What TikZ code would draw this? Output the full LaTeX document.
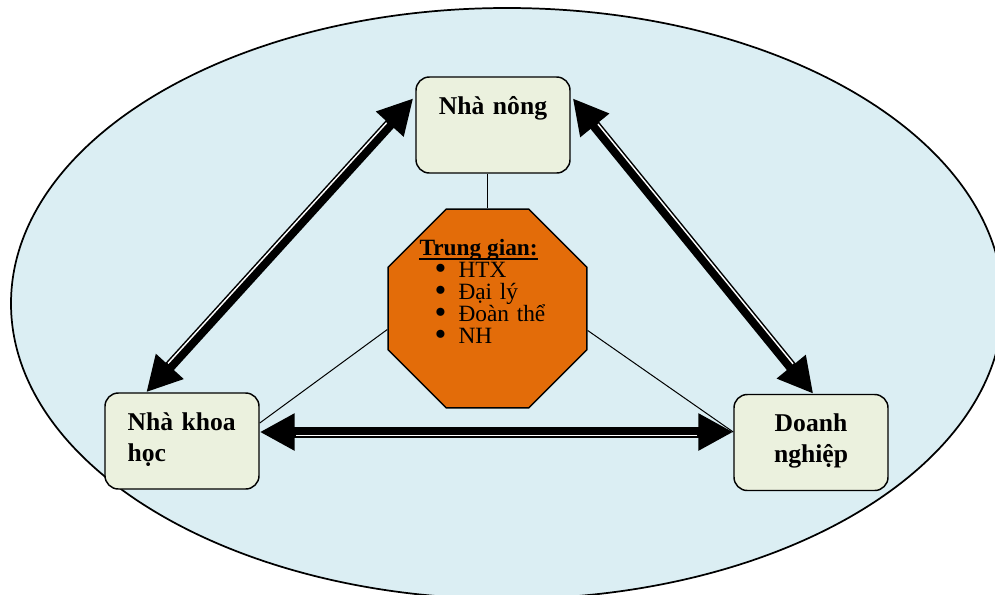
\documentclass[tikz,border=0pt]{standalone}
\usepackage{fontspec}
\setmainfont{Liberation Serif}
\usetikzlibrary{arrows.meta,shapes.geometric,calc}

\definecolor{ovalfill}{HTML}{DBEEF3}
\definecolor{boxfill}{HTML}{EBF1DE}
\definecolor{octfill}{HTML}{E36C09}
\newcommand\tightskip{\lineskiplimit=-50pt\relax}
\newcommand\dotitem{\makebox[18pt][l]{\smash{\raisebox{-1.6pt}{\scalebox{1.45}{\textbullet}}}}}

\tikzset{every picture/.style={line width=0.75pt}}
\tikzset{
  actor/.style={draw, line width=1.1, fill=boxfill, rounded corners=10pt,
    minimum width=115.5pt, inner xsep=17pt, inner ysep=0pt, text width=81.5pt,
    text height=27.75pt, text depth=44.25pt,
    font=\fontsize{19.2}{23.25}\selectfont\bfseries},
  link/.style={line width=8.25pt,
    {Triangle[length=26.25pt,width=26.25pt]}-{Triangle[length=26.25pt,width=26.25pt]}},
  gap/.style={white, line width=1.1pt, shorten >=27pt, shorten <=27pt}
}

\begin{document}
\begin{tikzpicture}[x=0.75pt,y=0.75pt,yscale=-1,xscale=1]
\useasboundingbox (0,0) rectangle (995,594);
\clip (0,0) rectangle (995,594);

%Shape: Ellipse
\draw [line width=1.3, fill=ovalfill] (507,303.5) ellipse (496 and 295.5);

%Shape: Rounded Rect
\node [actor, align=center] (nong) at (493,125) {Nhà nông};
%Shape: Rounded Rect
\node [actor, align=left] (khoa) at (182,441) {Nhà khoa\\học};
%Shape: Rounded Rect
\node [actor, align=center] (doanh) at (811,442.5) {Doanh\\nghiệp};

%Shape: Regular Polygon
\node [draw, line width=1.1, fill=octfill, regular polygon, regular polygon sides=8,
  minimum size=161.5pt, inner sep=0pt] (mid) at (487.5,308.5) {};

% Text Node
\node [anchor=base west, inner sep=0pt, font=\fontsize{17.5}{16.5}\selectfont\bfseries]
  (head) at (419,255) {Trung gian:};
% Text Node
\node [anchor=base west, inner sep=0pt, text width=90pt, align=left,
  font=\fontsize{17.5}{16.5}\selectfont, execute at begin node=\tightskip]
  (list) at (434,277) {\dotitem HTX\\
    \dotitem Đại lý\\
    \dotitem Đoàn thể\\
    \dotitem NH};
%Straight Lines
\draw [line width=1.5] ($(head.base west)+(0,4)$) -- ($(head.base east)+(0,4)$);

%Straight Lines
\draw (mid.north |- nong.south) -- (mid.north);
\draw ($(mid.west)+(0,21)$) -- ($(khoa.east)+(0,-18)$);
\draw ($(mid.east)+(0,22)$) -- ($(doanh.west)+(0,-10.5)$);

% arrow ends
\coordinate (kn) at ($(khoa.north west)+(42,0)$);
\coordinate (nk) at ($(nong.north west)+(-2,22)$);
\coordinate (nd) at ($(nong.north east)+(2,22)$);
\coordinate (dn) at ($(doanh.north west)+(80,0)$);
\coordinate (kd) at ($(khoa.east)+(0,-9)$);
\coordinate (dk) at ($(doanh.west)+(0,-10.5)$);

%Straight Lines
\draw [link] (kn) -- (nk);
\draw [gap] ($(kn)!2.44pt!-90:(nk)$) -- ($(nk)!2.44pt!90:(kn)$);
%Straight Lines
\draw [link] (nd) -- (dn);
\draw [gap] ($(nd)!2.44pt!-90:(dn)$) -- ($(dn)!2.44pt!90:(nd)$);
%Straight Lines
\draw [link] (dk) -- (kd);
\draw [gap] ($(dk)!2.44pt!-90:(kd)$) -- ($(kd)!2.44pt!90:(dk)$);

\end{tikzpicture}
\end{document}
